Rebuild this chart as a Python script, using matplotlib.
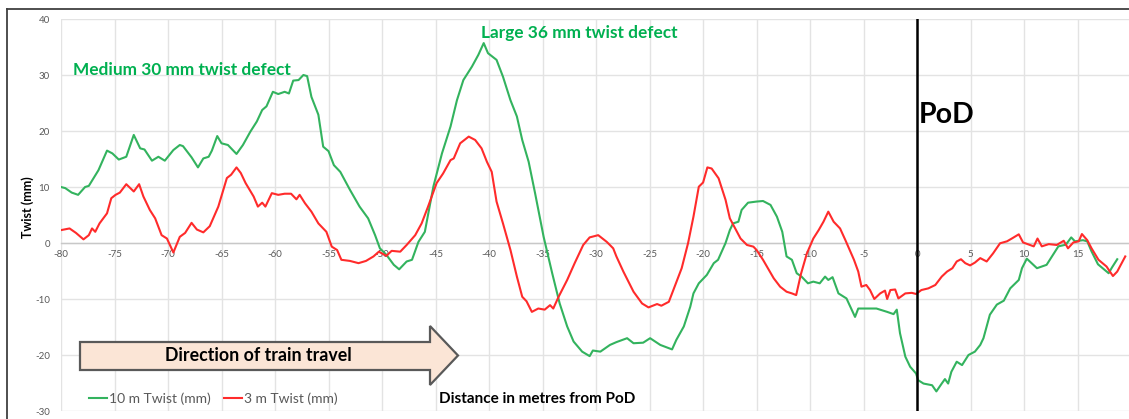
import matplotlib
matplotlib.use("Agg")
import matplotlib.pyplot as plt
from matplotlib.patches import Polygon
from matplotlib.lines import Line2D

plt.rcParams["font.family"] = ["Lato", "DejaVu Sans"]
plt.rcParams["axes.unicode_minus"] = False

# ---------------- data ----------------
green_x = [-80.0, -79.6, -79.0, -78.4, -77.75, -77.4, -76.5, -75.7, -75.2, -74.6, -73.9, -73.2,
           -72.6, -72.2, -71.5, -70.9, -70.3, -69.5, -68.9, -68.6, -67.8, -67.2, -66.7, -66.2,
           -65.9, -65.4, -65.0, -64.4, -63.6, -63.0, -62.3, -61.7, -61.2, -60.8, -60.2, -59.7,
           -59.1, -58.7, -58.3, -57.8, -57.35, -57.0, -56.6, -55.95, -55.5, -55.0, -54.5, -53.9,
           -53.0, -52.1, -51.3, -50.65, -50.2, -49.6, -48.9, -48.4, -47.7, -47.2, -46.6, -46.0,
           -45.5, -45.2, -44.4, -43.6, -43.0, -42.4, -41.6, -41.0, -40.5, -40.1, -39.3, -38.7,
           -38.0, -37.4, -36.9, -36.3, -35.7, -34.9, -34.1, -33.4, -32.7, -32.1, -31.3, -30.6,
           -30.3, -29.6, -28.7, -28.1, -27.1, -26.5, -25.6, -24.95, -24.0, -22.9, -22.5, -21.8,
           -21.2, -20.9, -20.4, -19.65, -19.0, -18.6, -17.9, -17.5, -17.2, -16.7, -16.4, -15.8,
           -15.0, -14.4, -13.7, -13.1, -12.6, -12.2, -11.7, -11.25, -10.8, -10.2, -9.7, -9.1,
           -8.6, -8.3, -7.9, -7.35, -6.6, -5.8, -5.5, -4.75, -3.8, -2.8, -2.2, -1.9, -1.6, -1.1,
           -0.65, -0.1, 0.1, 0.6, 1.4, 1.8, 2.3, 2.6, 2.9, 3.2, 3.7, 4.2, 4.8, 5.4, 5.9, 6.2,
           6.8, 7.45, 8.1, 8.7, 9.5, 9.8, 10.25, 11.2, 12.1, 12.7, 13.2, 13.9, 14.4, 14.75,
           15.5, 15.9, 16.3, 16.9, 17.9, 18.2, 18.7]
green_y = [10.0, 9.8, 9.0, 8.6, 10.0, 10.2, 13.0, 16.5, 16.0, 14.9, 15.4, 19.3,
           16.9, 16.7, 14.7, 15.4, 14.7, 16.6, 17.5, 17.3, 15.3, 13.5, 15.1, 15.4,
           16.5, 19.1, 17.8, 17.5, 15.9, 17.5, 19.9, 21.7, 23.75, 24.4, 27.0, 26.6,
           27.0, 26.7, 29.0, 29.1, 30.0, 29.8, 26.1, 22.9, 17.2, 16.4, 13.9, 12.7,
           9.5, 6.5, 4.4, 1.4, -0.95, -2.1, -3.9, -4.7, -3.3, -3.0, 0.2, 2.0,
           7.1, 10.1, 16.0, 20.8, 25.5, 29.1, 31.5, 33.6, 35.7, 33.9, 32.7, 29.7,
           25.5, 22.6, 18.4, 14.5, 8.9, 1.1, -5.4, -10.8, -14.9, -17.6, -19.4, -20.2,
           -19.2, -19.4, -18.2, -17.7, -17.0, -17.9, -17.8, -17.0, -18.2, -19.0, -17.3, -14.9,
           -11.4, -9.0, -7.2, -5.7, -3.6, -3.0, 0.0, 2.3, 3.5, 3.8, 5.9, 7.2,
           7.4, 7.5, 6.8, 4.7, 2.0, -2.4, -3.0, -5.4, -6.0, -7.2, -6.9, -7.2,
           -6.0, -6.6, -6.1, -9.0, -9.9, -13.2, -11.7, -11.7, -11.7, -12.3, -12.7, -11.9, -16.1, -20.3,
           -22.1, -23.3, -24.5, -25.1, -25.4, -26.5, -25.1, -24.3, -25.1, -23.0, -21.2, -21.8, -20.0, -19.4, -18.2, -17.0,
           -12.8, -11.0, -10.3, -8.1, -6.6, -4.5, -2.8, -4.5, -3.9, -2.1, -0.6, -0.3, 1.0, 0.3,
           0.5, 0.3, -1.5, -3.8, -5.4, -4.4, -2.9]

red_x = [-80.0, -79.2, -78.6, -77.9, -77.4, -77.1, -76.8, -76.4, -75.7, -75.3, -74.9, -74.5,
         -73.9, -73.2, -72.7, -72.3, -71.7, -71.2, -70.6, -70.1, -69.5, -68.9, -68.4, -67.8,
         -67.3, -66.7, -66.1, -65.3, -64.5, -64.1, -63.6, -63.2, -62.75, -62.0, -61.6, -61.2,
         -60.9, -60.3, -59.7, -59.1, -58.5, -58.0, -57.7, -57.2, -56.6, -55.95, -55.2, -54.7,
         -54.2, -53.8, -53.0, -52.2, -51.5, -50.8, -50.3, -49.6, -49.1, -48.3, -47.7, -46.9,
         -46.3, -45.7, -44.9, -44.3, -43.6, -43.3, -42.7, -41.9, -41.3, -40.7, -40.2, -39.75,
         -39.3, -38.7, -38.0, -37.4, -36.9, -36.5, -36.0, -35.4, -34.8, -34.3, -34.0, -33.5,
         -32.7, -32.0, -31.2, -30.6, -29.8, -29.0, -28.4, -28.1, -27.45, -26.5, -25.7, -25.1,
         -24.3, -23.9, -23.2, -22.6, -22.0, -21.4, -20.9, -20.4, -20.0, -19.6, -19.2, -18.55,
         -17.9, -17.5, -17.0, -16.5, -15.9, -15.3, -15.0, -14.4, -13.95, -13.4, -12.8, -12.2,
         -11.7, -11.3, -10.85, -10.3, -9.7, -9.2, -8.75, -8.3, -7.8, -7.2, -6.7, -6.3,
         -5.9, -5.5, -5.2, -4.75, -4.4, -4.0, -3.45, -3.0, -2.8, -2.5, -2.05, -1.75,
         -1.1, -0.5, -0.1, 0.4, 1.05, 1.7, 2.3, 2.8, 3.3, 3.7, 4.1, 4.5,
         4.95, 5.4, 5.9, 6.5, 7.1, 7.75, 8.4, 8.85, 9.5, 9.9, 10.55, 10.9,
         11.25, 11.65, 12.3, 13.05, 13.7, 14.1, 14.6, 15.1, 15.4, 15.9, 16.3, 16.95,
         17.7, 18.3, 18.7, 19.45]
red_y = [2.3, 2.6, 1.8, 0.65, 1.4, 2.6, 2.0, 3.5, 5.3, 8.0, 8.6, 9.0,
         10.5, 9.2, 10.5, 8.3, 5.9, 4.4, 1.4, 0.8, -1.7, 1.1, 1.8, 3.6,
         2.4, 1.9, 3.0, 6.5, 11.6, 12.2, 13.5, 12.5, 10.7, 8.3, 6.5, 7.2,
         6.5, 8.9, 8.6, 8.8, 8.8, 7.8, 8.6, 7.1, 5.6, 3.5, 2.0, -0.65,
         -1.25, -3.0, -3.2, -3.6, -3.2, -2.4, -1.55, -2.3, -1.4, -1.55, -0.35, 1.4,
         3.5, 6.5, 10.7, 12.4, 14.8, 15.1, 17.8, 19.0, 18.4, 16.9, 14.5, 12.7,
         7.4, 3.5, -1.25, -6.0, -9.6, -10.4, -12.3, -11.7, -11.9, -11.1, -11.7, -9.6,
         -6.6, -3.6, -0.35, 1.0, 1.4, 0.2, -0.95, -2.4, -5.1, -8.7, -10.8, -11.5,
         -10.9, -11.2, -10.5, -7.5, -4.5, 0.0, 4.7, 10.05, 10.8, 13.5, 13.3, 11.55,
         7.7, 4.4, 2.6, 0.8, -0.35, -0.65, -1.25, -3.0, -4.5, -6.3, -7.8, -8.7,
         -9.0, -9.3, -5.5, -1.85, 0.8, 2.3, 3.8, 5.6, 3.8, 2.6, 0.5, -1.25,
         -3.0, -5.1, -7.8, -7.5, -8.4, -10.0, -9.0, -8.5, -10.0, -8.4, -8.3, -9.9,
         -9.0, -8.9, -9.1, -8.4, -8.1, -7.5, -6.0, -5.1, -4.5, -3.3, -2.9, -3.6,
         -4.0, -3.5, -2.7, -3.3, -1.85, -0.05, 0.3, 0.8, 1.55, 0.1, -0.35, -0.6,
         0.8, -0.6, -0.2, -0.35, 0.4, -0.95, 0.1, 0.3, 1.6, 0.5, -0.95, -3.0,
         -4.2, -5.9, -5.1, -2.4]

series_labels = ["10 m Twist (mm)", "3 m Twist (mm)"]
x_ticks = list(range(-80, 20, 5))
y_ticks = list(range(-30, 50, 10))
pod_position = 0

GREEN = "#33B35E"
RED = "#FF2B2B"
ANN_GREEN = "#00B050"
GRAY = "#595959"

W, H = 1129, 419
fig = plt.figure(figsize=(W / 100, H / 100), dpi=100)

def fx(px):
    return px / W

def fy(py):
    return 1 - py / H

# figure frame
fig.add_artist(Line2D([fx(7), fx(7)], [fy(9), 0], color="#404040", lw=1.3, transform=fig.transFigure))
fig.add_artist(Line2D([fx(7), 1], [fy(9), fy(9)], color="#404040", lw=1.3, transform=fig.transFigure))

ax = fig.add_axes([fx(61), fy(411), 1 - fx(61), fy(19) - fy(411)])
ax.set_xlim(-80, 19.8)
ax.set_ylim(-30, 40)

ax.set_xticks(x_ticks)
ax.set_yticks(y_ticks)
ax.grid(True, color="#E3E3E3", lw=1.0)
ax.set_axisbelow(True)
for s in ["top", "right", "left"]:
    ax.spines[s].set_visible(False)
ax.spines["bottom"].set_position(("data", 0))
ax.spines["bottom"].set_color("#C8C8C8")
ax.spines["bottom"].set_linewidth(1.0)
ax.tick_params(axis="both", length=0, labelsize=7, labelcolor=GRAY)
ax.tick_params(axis="x", pad=5)
ax.tick_params(axis="y", pad=8)

ax.plot(green_x, green_y, color=GREEN, lw=1.5, label=series_labels[0], zorder=3)
ax.plot(red_x, red_y, color=RED, lw=1.5, label=series_labels[1], zorder=3)
ax.axvline(pod_position, color="black", lw=1.8, zorder=4)

# annotations
fig.text(fx(182), fy(70), "Medium 30 mm twist defect", color=ANN_GREEN, fontsize=12.4,
         fontweight="bold", ha="center", va="center")
fig.text(fx(579), fy(33), "Large 36 mm twist defect", color=ANN_GREEN, fontsize=12.4,
         fontweight="bold", ha="center", va="center")
fig.text(fx(947), fy(115), "PoD", color="black", fontsize=20.5, fontweight="bold",
         ha="center", va="center")

# axis label texts
fig.text(fx(28), fy(207), "Twist (mm)", rotation=90, fontsize=9, fontweight="bold",
         ha="center", va="center")
fig.text(fx(537), fy(399), "Distance in metres from PoD", fontsize=11, fontweight="bold",
         ha="center", va="center")

# direction arrow
pts = [(80, 342), (430, 342), (430, 326), (458, 355.5), (430, 385), (430, 370), (80, 370)]
arrow = Polygon([(fx(a), fy(b)) for a, b in pts], closed=True, transform=fig.transFigure,
                facecolor="#FBE5D6", edgecolor="#595959", lw=1.6, zorder=5)
fig.add_artist(arrow)
fig.text(fx(258), fy(355), "Direction of train travel", fontsize=12.8, fontweight="bold",
         ha="center", va="center", zorder=6)

leg = ax.legend(loc="center left", bbox_to_anchor=(fx(76), fy(399)), bbox_transform=fig.transFigure,
                ncol=2, frameon=False, handlelength=1.3, handletextpad=0.2, columnspacing=0.9,
                fontsize=10)
for t in leg.get_texts():
    t.set_color(GRAY)

fig.savefig("out.png", dpi=100)
